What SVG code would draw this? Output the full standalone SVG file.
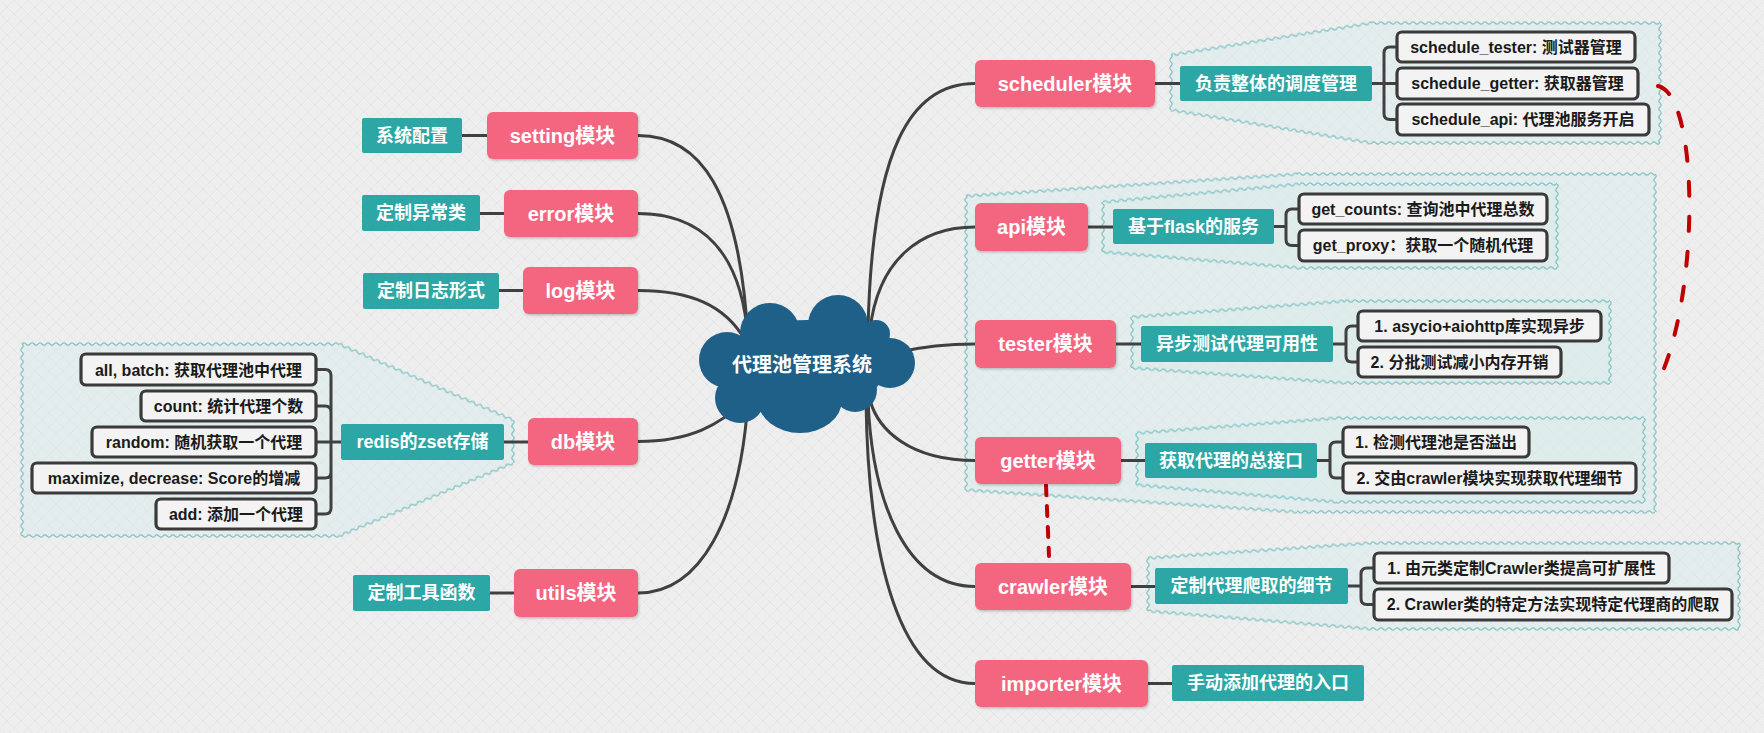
<svg xmlns="http://www.w3.org/2000/svg" width="1764" height="733" viewBox="0 0 1764 733">
<defs>
<style>
text{font-family:"Liberation Sans","Noto Sans CJK SC",sans-serif;font-weight:bold;text-anchor:middle}
.pk rect{fill:#f4657f;filter:url(#sh)}
.pk text{fill:#fff;font-size:20px}
.tl rect{fill:#2ca7a5}
.tl text{fill:#fff;font-size:18px}
.wb rect{fill:#f3f3f3;stroke:#3a3a3a;stroke-width:3.2}
.wb text{fill:#1a1a1a;font-size:16px}
.ln{fill:none;stroke:#404040;stroke-width:3}
.rd{fill:none;stroke:#c00000;stroke-width:4;stroke-linecap:round}
.bd{fill:#d6ecec;fill-opacity:.45}
.wv{fill:url(#wave)}
</style>
<pattern id="wave" patternUnits="userSpaceOnUse" x="0" y="-3" width="8" height="6">
<path d="M0 3Q2 0.6 4 3T8 3" fill="none" stroke="#84c4c4" stroke-width="1.2"/>
</pattern>
<pattern id="bg" patternUnits="userSpaceOnUse" width="14" height="14">
<rect width="14" height="14" fill="#eeeeee"/>
<path d="M0 14L14 0M0 0L14 14" stroke="#e3e3e3" stroke-width="0.7"/>
</pattern>
<filter id="sh" x="-10%" y="-10%" width="130%" height="140%">
<feDropShadow dx="1" dy="1.5" stdDeviation="1" flood-color="#000" flood-opacity="0.2"/>
</filter>
</defs>
<rect width="1764" height="733" fill="url(#bg)"/>

<g id="boundaries">
<g id="b-db">
<polygon class="bd" points="22,344 339,344 513,420 513,463 339,536 22,536"/>
<rect class="wv" x="0" y="-3" width="317" height="6" transform="translate(22,344)"/>
<rect class="wv" x="0" y="-3" width="190" height="6" transform="translate(339,344) rotate(23.59)"/>
<rect class="wv" x="0" y="-3" width="43" height="6" transform="translate(513,420) rotate(90)"/>
<rect class="wv" x="0" y="-3" width="189" height="6" transform="translate(513,463) rotate(157.24)"/>
<rect class="wv" x="0" y="-3" width="317" height="6" transform="translate(339,536) rotate(180)"/>
<rect class="wv" x="0" y="-3" width="192" height="6" transform="translate(22,536) rotate(-90)"/>
</g>
<g id="b-scheduler">
<polygon class="bd" points="1171,55 1371,23 1660,23 1660,143 1371,143 1171,110"/>
<rect class="wv" x="0" y="-3" width="203" height="6" transform="translate(1171,55) rotate(-9.09)"/>
<rect class="wv" x="0" y="-3" width="289" height="6" transform="translate(1371,23)"/>
<rect class="wv" x="0" y="-3" width="120" height="6" transform="translate(1660,23) rotate(90)"/>
<rect class="wv" x="0" y="-3" width="289" height="6" transform="translate(1660,143) rotate(180)"/>
<rect class="wv" x="0" y="-3" width="203" height="6" transform="translate(1371,143) rotate(189.37)"/>
<rect class="wv" x="0" y="-3" width="55" height="6" transform="translate(1171,110) rotate(-90)"/>
</g>
<g id="b-outer">
<polygon class="bd" points="966,196 1297,174 1655,174 1655,512 1297,512 966,490"/>
<rect class="wv" x="0" y="-3" width="332" height="6" transform="translate(966,196) rotate(-3.8)"/>
<rect class="wv" x="0" y="-3" width="358" height="6" transform="translate(1297,174)"/>
<rect class="wv" x="0" y="-3" width="338" height="6" transform="translate(1655,174) rotate(90)"/>
<rect class="wv" x="0" y="-3" width="358" height="6" transform="translate(1655,512) rotate(180)"/>
<rect class="wv" x="0" y="-3" width="332" height="6" transform="translate(1297,512) rotate(183.8)"/>
<rect class="wv" x="0" y="-3" width="294" height="6" transform="translate(966,490) rotate(-90)"/>
</g>
<g id="b-api">
<polygon class="bd" points="1103,202 1300,184 1557,184 1557,268 1300,268 1103,252"/>
<rect class="wv" x="0" y="-3" width="198" height="6" transform="translate(1103,202) rotate(-5.22)"/>
<rect class="wv" x="0" y="-3" width="257" height="6" transform="translate(1300,184)"/>
<rect class="wv" x="0" y="-3" width="84" height="6" transform="translate(1557,184) rotate(90)"/>
<rect class="wv" x="0" y="-3" width="257" height="6" transform="translate(1557,268) rotate(180)"/>
<rect class="wv" x="0" y="-3" width="198" height="6" transform="translate(1300,268) rotate(184.64)"/>
<rect class="wv" x="0" y="-3" width="50" height="6" transform="translate(1103,252) rotate(-90)"/>
</g>
<g id="b-tester">
<polygon class="bd" points="1132,317 1345,301 1610,301 1610,383 1345,383 1132,368"/>
<rect class="wv" x="0" y="-3" width="214" height="6" transform="translate(1132,317) rotate(-4.3)"/>
<rect class="wv" x="0" y="-3" width="265" height="6" transform="translate(1345,301)"/>
<rect class="wv" x="0" y="-3" width="82" height="6" transform="translate(1610,301) rotate(90)"/>
<rect class="wv" x="0" y="-3" width="265" height="6" transform="translate(1610,383) rotate(180)"/>
<rect class="wv" x="0" y="-3" width="214" height="6" transform="translate(1345,383) rotate(184.03)"/>
<rect class="wv" x="0" y="-3" width="51" height="6" transform="translate(1132,368) rotate(-90)"/>
</g>
<g id="b-getter">
<polygon class="bd" points="1137,433 1337,418 1644,418 1644,502 1337,502 1137,485"/>
<rect class="wv" x="0" y="-3" width="201" height="6" transform="translate(1137,433) rotate(-4.29)"/>
<rect class="wv" x="0" y="-3" width="307" height="6" transform="translate(1337,418)"/>
<rect class="wv" x="0" y="-3" width="84" height="6" transform="translate(1644,418) rotate(90)"/>
<rect class="wv" x="0" y="-3" width="307" height="6" transform="translate(1644,502) rotate(180)"/>
<rect class="wv" x="0" y="-3" width="201" height="6" transform="translate(1337,502) rotate(184.86)"/>
<rect class="wv" x="0" y="-3" width="52" height="6" transform="translate(1137,485) rotate(-90)"/>
</g>
<g id="b-crawler">
<polygon class="bd" points="1148,558 1371,543 1739,543 1739,629 1371,629 1148,611"/>
<rect class="wv" x="0" y="-3" width="224" height="6" transform="translate(1148,558) rotate(-3.85)"/>
<rect class="wv" x="0" y="-3" width="368" height="6" transform="translate(1371,543)"/>
<rect class="wv" x="0" y="-3" width="86" height="6" transform="translate(1739,543) rotate(90)"/>
<rect class="wv" x="0" y="-3" width="368" height="6" transform="translate(1739,629) rotate(180)"/>
<rect class="wv" x="0" y="-3" width="224" height="6" transform="translate(1371,629) rotate(184.61)"/>
<rect class="wv" x="0" y="-3" width="53" height="6" transform="translate(1148,611) rotate(-90)"/>
</g>
</g>

<g id="connectors">
<path class="ln" d="M638 135.5C700 135.5 740 190 748 340"/>
<path class="ln" d="M638 213.5C700 213.5 742 250 748 340"/>
<path class="ln" d="M638 290.5C690 290.5 725 305 745 340"/>
<path class="ln" d="M638 441.5C690 441.5 720 425 745 400"/>
<path class="ln" d="M638 593C700 593 740 520 748 400"/>
<path class="ln" d="M975 83.5C910 83.5 872 150 868 330"/>
<path class="ln" d="M975 227C920 227 878 260 870 330"/>
<path class="ln" d="M975 344C945 344 925 346 900 352"/>
<path class="ln" d="M975 460.5C910 460.5 878 430 870 400"/>
<path class="ln" d="M975 586.5C905 586.5 872 500 868 400"/>
<path class="ln" d="M975 683.5C900 683.5 868 560 866 400"/>
<path class="ln" d="M462 135.5H487M480 213.5H504M499 290.5H523M504 442H528M490 593H514"/>
<path class="ln" d="M1155 83.5H1180M1088 227H1113M1116 344H1141M1121 460.5H1145M1131 586.5H1155M1148 683.5H1172"/>
<path class="ln" d="M341 442H316M331 442V375.5Q331 369.5 325 369.5H316M331 442V412Q331 406 325 406H316M331 442V472Q331 478 325 478H316M331 442V508Q331 514 325 514H316"/>
<path class="ln" d="M1372 83.5H1397M1384 83.5V53Q1384 47 1390 47H1397M1384 83.5V113.5Q1384 119.5 1390 119.5H1397"/>
<path class="ln" d="M1274 226.5H1286V215Q1286 209 1292 209H1299M1286 226.5V239.5Q1286 245.5 1292 245.5H1299"/>
<path class="ln" d="M1333 344H1346V332Q1346 326 1352 326H1358M1346 344V356Q1346 362 1352 362H1358"/>
<path class="ln" d="M1317 460.5H1330V448Q1330 442 1336 442H1343M1330 460.5V472Q1330 478 1336 478H1343"/>
<path class="ln" d="M1348 586H1361V574Q1361 568 1367 568H1374M1361 586V598.5Q1361 604.5 1367 604.5H1374"/>
<path class="rd" d="M1658 86C1700 95 1700 300 1657 384" stroke-dasharray="14 21"/>
<path class="rd" d="M1046 485C1047 510 1048 530 1049 556" stroke-width="3.5" stroke-dasharray="10 11"/>
</g>

<g id="root">
<g fill="#1e6088">
<circle cx="727" cy="360" r="28"/>
<circle cx="740" cy="398" r="25"/>
<ellipse cx="800" cy="400" rx="42" ry="33"/>
<circle cx="855" cy="390" r="22"/>
<circle cx="890" cy="363" r="25"/>
<circle cx="876" cy="334" r="14"/>
<circle cx="838" cy="325" r="30"/>
<circle cx="770" cy="333" r="30"/>
<ellipse cx="807" cy="365" rx="80" ry="45"/>
</g>
<text x="802" y="372" fill="#fff" font-size="20">代理池管理系统</text>
</g>

<g id="n-setting" class="pk"><rect x="487" y="112" width="151" height="47" rx="6"/><text x="562.5" y="142.5">setting模块</text></g>
<g id="n-setting-d" class="tl"><rect x="362" y="118" width="100" height="35" rx="2"/><text x="412" y="141.5">系统配置</text></g>
<g id="n-error" class="pk"><rect x="504" y="190" width="134" height="47" rx="6"/><text x="571" y="220.5">error模块</text></g>
<g id="n-error-d" class="tl"><rect x="362" y="195" width="118" height="36" rx="2"/><text x="421" y="219">定制异常类</text></g>
<g id="n-log" class="pk"><rect x="523" y="267" width="115" height="47" rx="6"/><text x="580.5" y="297.5">log模块</text></g>
<g id="n-log-d" class="tl"><rect x="363" y="273" width="136" height="36" rx="2"/><text x="431" y="297">定制日志形式</text></g>
<g id="n-db" class="pk"><rect x="528" y="418" width="110" height="47" rx="6"/><text x="583" y="448.5">db模块</text></g>
<g id="n-db-d" class="tl"><rect x="341" y="424" width="163" height="36" rx="2"/><text x="422.5" y="448">redis的zset存储</text></g>
<g id="n-db-1" class="wb"><rect x="81" y="354" width="235" height="31" rx="5"/><text x="198.5" y="375.5">all, batch: 获取代理池中代理</text></g>
<g id="n-db-2" class="wb"><rect x="141" y="391" width="175" height="30" rx="5"/><text x="228.5" y="411.5">count: 统计代理个数</text></g>
<g id="n-db-3" class="wb"><rect x="92" y="427" width="224" height="30" rx="5"/><text x="204" y="447.5">random: 随机获取一个代理</text></g>
<g id="n-db-4" class="wb"><rect x="32" y="463" width="284" height="30" rx="5"/><text x="174" y="483.5">maximize, decrease: Score的增减</text></g>
<g id="n-db-5" class="wb"><rect x="156" y="499" width="160" height="30" rx="5"/><text x="236" y="519.5">add: 添加一个代理</text></g>
<g id="n-utils" class="pk"><rect x="514" y="569" width="124" height="48" rx="6"/><text x="576" y="600">utils模块</text></g>
<g id="n-utils-d" class="tl"><rect x="353" y="575" width="137" height="36" rx="2"/><text x="421.5" y="599">定制工具函数</text></g>

<g id="n-scheduler" class="pk"><rect x="975" y="60" width="180" height="47" rx="6"/><text x="1065" y="90.5">scheduler模块</text></g>
<g id="n-scheduler-d" class="tl"><rect x="1180" y="66" width="192" height="35" rx="2"/><text x="1276" y="89.5">负责整体的调度管理</text></g>
<g id="n-scheduler-1" class="wb"><rect x="1397" y="32" width="238" height="30" rx="5"/><text x="1516" y="52.5">schedule_tester: 测试器管理</text></g>
<g id="n-scheduler-2" class="wb"><rect x="1397" y="68" width="241" height="31" rx="5"/><text x="1517.5" y="89">schedule_getter: 获取器管理</text></g>
<g id="n-scheduler-3" class="wb"><rect x="1397" y="104" width="252" height="31" rx="5"/><text x="1523" y="125">schedule_api: 代理池服务开启</text></g>

<g id="n-api" class="pk"><rect x="975" y="203" width="113" height="48" rx="6"/><text x="1031.5" y="234">api模块</text></g>
<g id="n-api-d" class="tl"><rect x="1113" y="209" width="161" height="35" rx="2"/><text x="1193.5" y="232.5">基于flask的服务</text></g>
<g id="n-api-1" class="wb"><rect x="1299" y="194" width="248" height="30" rx="5"/><text x="1423" y="214.5">get_counts: 查询池中代理总数</text></g>
<g id="n-api-2" class="wb"><rect x="1299" y="230" width="248" height="31" rx="5"/><text x="1423" y="251">get_proxy：获取一个随机代理</text></g>

<g id="n-tester" class="pk"><rect x="975" y="320" width="141" height="48" rx="6"/><text x="1045.5" y="351">tester模块</text></g>
<g id="n-tester-d" class="tl"><rect x="1141" y="326" width="192" height="36" rx="2"/><text x="1237" y="350">异步测试代理可用性</text></g>
<g id="n-tester-1" class="wb"><rect x="1358" y="311" width="243" height="30" rx="5"/><text x="1479.5" y="331.5">1. asycio+aiohttp库实现异步</text></g>
<g id="n-tester-2" class="wb"><rect x="1358" y="347" width="203" height="30" rx="5"/><text x="1459.5" y="367.5">2. 分批测试减小内存开销</text></g>

<g id="n-getter" class="pk"><rect x="975" y="437" width="146" height="47" rx="6"/><text x="1048" y="467.5">getter模块</text></g>
<g id="n-getter-d" class="tl"><rect x="1145" y="443" width="172" height="35" rx="2"/><text x="1231" y="466.5">获取代理的总接口</text></g>
<g id="n-getter-1" class="wb"><rect x="1343" y="427" width="186" height="30" rx="5"/><text x="1436" y="447.5">1. 检测代理池是否溢出</text></g>
<g id="n-getter-2" class="wb"><rect x="1343" y="463" width="293" height="30" rx="5"/><text x="1489.5" y="483.5">2. 交由crawler模块实现获取代理细节</text></g>

<g id="n-crawler" class="pk"><rect x="975" y="563" width="156" height="47" rx="6"/><text x="1053" y="593.5">crawler模块</text></g>
<g id="n-crawler-d" class="tl"><rect x="1155" y="568" width="193" height="36" rx="2"/><text x="1251.5" y="592">定制代理爬取的细节</text></g>
<g id="n-crawler-1" class="wb"><rect x="1374" y="553" width="295" height="30" rx="5"/><text x="1521.5" y="573.5">1. 由元类定制Crawler类提高可扩展性</text></g>
<g id="n-crawler-2" class="wb"><rect x="1374" y="589" width="358" height="31" rx="5"/><text x="1553" y="610">2. Crawler类的特定方法实现特定代理商的爬取</text></g>

<g id="n-importer" class="pk"><rect x="975" y="660" width="173" height="47" rx="6"/><text x="1061.5" y="690.5">importer模块</text></g>
<g id="n-importer-d" class="tl"><rect x="1172" y="665" width="192" height="36" rx="2"/><text x="1268" y="689">手动添加代理的入口</text></g>
</svg>
